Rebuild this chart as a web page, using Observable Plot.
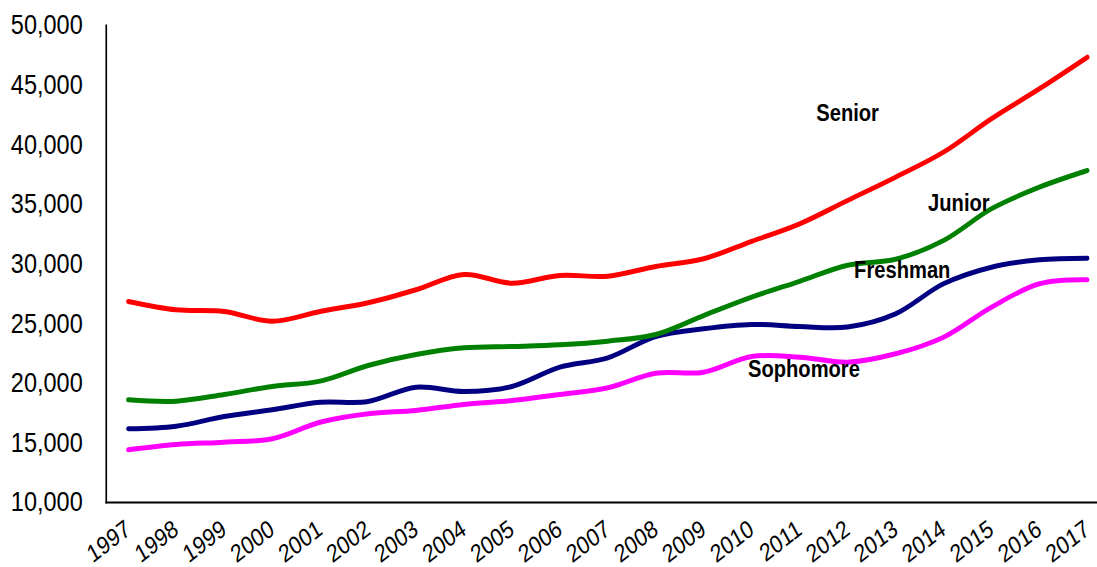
<!DOCTYPE html>
<html>
<head>
<meta charset="utf-8">
<script src="https://cdn.jsdelivr.net/npm/d3@7"></script>
<script src="https://cdn.jsdelivr.net/npm/@observablehq/plot@0.6"></script>
<style>
  html, body { margin: 0; padding: 0; background: #fff; overflow: hidden; }
  #chart svg { display: block; }
</style>
</head>
<body>
<div id="chart"></div>
<script>
// ---- data ----
const years = [1997, 1998, 1999, 2000, 2001, 2002, 2003, 2004, 2005, 2006, 2007,
               2008, 2009, 2010, 2011, 2012, 2013, 2014, 2015, 2016, 2017];
const seriesNames = ["Freshman", "Sophomore", "Junior", "Senior"];
const seriesColors = ["#000080", "#FF00FF", "#008000", "#FF0000"];
const freshman  = [16180, 16400, 17210, 17770, 18410, 18470, 19670, 19310, 19730, 21350, 22130,
                   23920, 24570, 24930, 24760, 24720, 25820, 28340, 29730, 30350, 30490];
const sophomore = [14420, 14860, 15060, 15340, 16730, 17440, 17720, 18220, 18550, 19060, 19620,
                   20840, 20930, 22240, 22190, 21770, 22470, 23860, 26380, 28340, 28680];
const junior    = [18610, 18500, 19060, 19730, 20180, 21490, 22410, 22970, 23080, 23220, 23530,
                   24090, 25680, 27220, 28550, 29900, 30400, 31970, 34630, 36440, 37840];
const senior    = [26860, 26160, 26020, 25200, 26020, 26750, 27840, 29120, 28390, 29040, 28980,
                   29790, 30440, 31900, 33370, 35330, 37280, 39380, 42180, 44690, 47340];
const yTicks = [10000, 15000, 20000, 25000, 30000, 35000, 40000, 45000, 50000];
// label anchors (data coordinates)
const labelNames  = ["Senior", "Junior", "Freshman", "Sophomore"];
const labelYears  = [2012.0, 2014.32, 2013.14, 2011.09];
const labelValues = [42600, 35100, 29480, 21210];

// ---- build table ----
const valuesBySeries = [freshman, sophomore, junior, senior];
const rows = [];
seriesNames.forEach((name, s) => {
  years.forEach((yr, i) => rows.push({name, year: yr, value: valuesBySeries[s][i]}));
});
const labels = labelNames.map((t, i) => ({text: t, year: labelYears[i], value: labelValues[i]}));

// ---- chart (drawn wide, then squeezed horizontally like the reference) ----
const W = 1097, H = 567, SQUISH = 0.84;
const PW = Math.round(W / SQUISH);

const chart = Plot.plot({
  width: PW,
  height: H,
  marginLeft: 126,
  marginRight: 0,
  marginTop: 25,
  marginBottom: 65,
  style: {fontFamily: "'Liberation Sans', Arial, sans-serif", color: "#000", background: "#fff"},
  x: {domain: [1996.541, 2017.21]},
  y: {domain: [10000, 50000]},
  color: {domain: seriesNames, range: seriesColors},
  marks: [
    Plot.axisY({ticks: yTicks, tickFormat: d3.format(","), tickSize: 0, tickPadding: 28,
                fontSize: 28, label: null}),
    Plot.axisX({ticks: years, tickFormat: d => String(d), tickSize: 0, tickPadding: 24,
                tickRotate: -33, fontSize: 25, label: null}),
    Plot.line(rows, {x: "year", y: "value", z: "name", stroke: "name",
                     curve: "catmull-rom", strokeWidth: 5, strokeLinecap: "round",
                     strokeLinejoin: "round"}),
    Plot.frame({anchor: "left", stroke: "#000", strokeWidth: 2}),
    Plot.frame({anchor: "bottom", stroke: "#000", strokeWidth: 2}),
    Plot.text(labels, {x: "year", y: "value", text: "text", fontWeight: "bold", fontSize: 24,
                       textAnchor: "middle", lineAnchor: "middle", fill: "#000"})
  ]
});

chart.setAttribute("width", W);
chart.setAttribute("height", H);
chart.setAttribute("viewBox", `0 0 ${PW} ${H}`);
chart.setAttribute("preserveAspectRatio", "none");
chart.style.width = W + "px";
chart.style.height = H + "px";
chart.style.maxWidth = "none";
document.getElementById("chart").appendChild(chart);
</script>
</body>
</html>
